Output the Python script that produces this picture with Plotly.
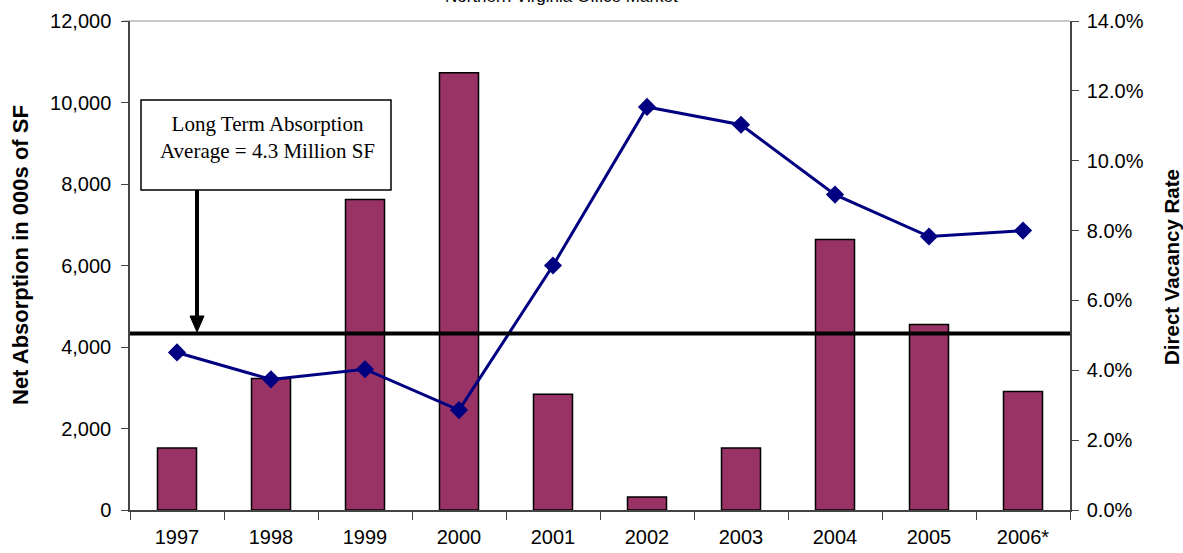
import plotly.graph_objects as go

years = ["1997", "1998", "1999", "2000", "2001", "2002", "2003", "2004", "2005", "2006*"]
net_absorption = [1520, 3230, 7620, 10730, 2840, 320, 1520, 6640, 4550, 2910]
vacancy_rate = [0.0451, 0.0374, 0.0403, 0.0286, 0.070, 0.1154, 0.1103, 0.0903, 0.0783, 0.080]
long_term_avg = 4330

left_ticks = [0, 2000, 4000, 6000, 8000, 10000, 12000]
right_ticks = [0.0, 0.02, 0.04, 0.06, 0.08, 0.10, 0.12, 0.14]

W, H = 1183, 553
ML, MR, MT, MB = 130, 113, 21, 43
PW, PH = W - ML - MR, H - MT - MB

def px_x(px):
    return (px - ML) / PW

def px_y(py):
    return (H - MB - py) / PH

sans = "Liberation Sans, Arial, sans-serif"
serif = "Liberation Serif, Times New Roman, serif"

fig = go.Figure()
fig.add_trace(go.Bar(
    x=years, y=net_absorption, name="Net Absorption",
    marker=dict(color="#993366", line=dict(color="black", width=1.5)),
    yaxis="y",
))
fig.add_trace(go.Scatter(
    x=years, y=vacancy_rate, name="Direct Vacancy Rate",
    mode="lines+markers",
    line=dict(color="#000080", width=3),
    marker=dict(symbol="diamond", size=14, color="#000080"),
    yaxis="y2",
))

# long-term average line
fig.add_shape(type="line", xref="paper", yref="y", x0=0, x1=1,
              y0=long_term_avg, y1=long_term_avg,
              line=dict(color="black", width=4))

# top border
fig.add_shape(type="line", xref="paper", yref="paper", x0=px_x(123), x1=1, y0=1, y1=1,
              line=dict(color="#c8c8c8", width=2), layer="below")

# annotation box
fig.add_shape(type="rect", xref="paper", yref="paper",
              x0=px_x(141), x1=px_x(391), y0=px_y(190), y1=px_y(100),
              line=dict(color="black", width=1.5), fillcolor="white")
fig.add_annotation(xref="paper", yref="paper", x=px_x(267), y=px_y(138),
                   xanchor="center", yanchor="middle",
                   text="Long Term Absorption<br>Average = 4.3 Million SF",
                   showarrow=False, font=dict(family=serif, size=21, color="black"),
                   align="center")
# arrow
fig.add_shape(type="line", xref="paper", yref="paper",
              x0=px_x(197), x1=px_x(197), y0=px_y(190), y1=px_y(318),
              line=dict(color="black", width=4))
fig.add_shape(type="path", xref="paper", yref="paper",
              path=f"M {px_x(190)} {px_y(316)} L {px_x(204)} {px_y(316)} L {px_x(197)} {px_y(332)} Z",
              fillcolor="black", line=dict(color="black", width=1))

# clipped title
fig.add_annotation(xref="paper", yref="paper", x=px_x(561), y=px_y(-4),
                   xanchor="center", yanchor="middle",
                   text="Northern Virginia Office Market", showarrow=False,
                   font=dict(family=sans, size=17, color="black"))

# axis titles
fig.add_annotation(xref="paper", yref="paper", x=px_x(20), y=px_y(255),
                   xanchor="center", yanchor="middle", textangle=-90,
                   text="<b>Net Absorption in 000s of SF</b>", showarrow=False,
                   font=dict(family=sans, size=22, color="black"))
fig.add_annotation(xref="paper", yref="paper", x=px_x(1171), y=px_y(267),
                   xanchor="center", yanchor="middle", textangle=-90,
                   text="<b>Direct Vacancy Rate</b>", showarrow=False,
                   font=dict(family=sans, size=20.5, color="black"))

fig.update_layout(
    width=W, height=H,
    margin=dict(l=ML, r=MR, t=MT, b=MB, pad=0, autoexpand=False),
    plot_bgcolor="white", paper_bgcolor="white",
    showlegend=False,
    bargap=0.585,
    font=dict(family=sans, size=20, color="black"),
    xaxis=dict(
        type="category", range=[-0.5, len(years) - 0.5],
        showline=True, linecolor="#444", linewidth=1.5,
        ticks="outside", tickson="boundaries", ticklen=8, tickcolor="#444",
        tickfont=dict(size=20), showgrid=False, zeroline=False, automargin=False,
        ticklabelstandoff=8,
    ),
    yaxis=dict(
        range=[0, 12000], tickvals=left_ticks, tickformat=",",
        showline=True, linecolor="#444", linewidth=1.5,
        ticks="outside", ticklen=7, tickcolor="#444",
        showgrid=False, zeroline=False, tickfont=dict(size=20),
        automargin=False, ticklabelstandoff=6,
    ),
    yaxis2=dict(
        range=[0, 0.14], tickvals=right_ticks, tickformat=".1%",
        overlaying="y", side="right",
        showline=True, linecolor="#444", linewidth=1.5,
        ticks="outside", ticklen=7, tickcolor="#444",
        showgrid=False, zeroline=False, tickfont=dict(size=20),
        automargin=False, ticklabelstandoff=4,
    ),
)

fig.write_html("out.html", config={"displayModeBar": False},
               post_script="document.body.style.margin='0';document.body.style.overflow='hidden';")
